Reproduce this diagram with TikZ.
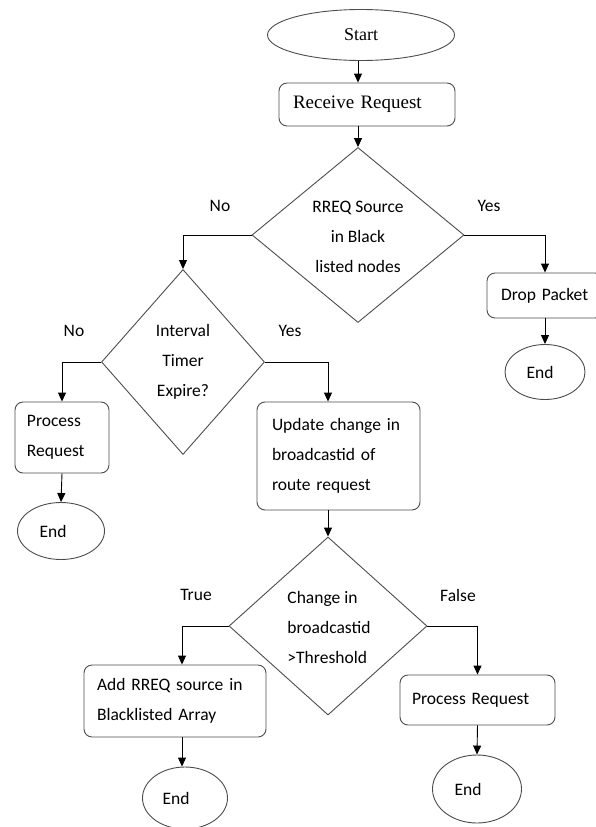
\documentclass[tikz,border=0pt]{standalone}
\usepackage{fontspec}
\setmainfont{Carlito}
\newfontfamily\serifx{Liberation Serif}
\usetikzlibrary{shapes.geometric,arrows.meta}
\begin{document}
\begin{tikzpicture}[x=1pt,y=-1pt,
  every node/.style={font=\fontsize{17.5}{30}\selectfont},
  line/.style={draw=black!70, line width=0.9pt},
  arr/.style={draw=black, line width=0.9pt, -{Triangle[length=9pt,width=8pt]}},
  term/.style={ellipse, line, inner sep=0pt},
  box/.style={rectangle, rounded corners=8pt, line, align=left, inner ysep=0pt},
  dia/.style={diamond, line, inner sep=0pt},
  lbl/.style={inner sep=0pt}
]
\useasboundingbox (0,0) rectangle (595,827);

\coordinate (cx1) at (358,0);
\coordinate (cx3) at (328,0);
\coordinate (cx4) at (182,0);

% top
\node[term, minimum width=187pt, minimum height=51pt, font=\serifx\fontsize{18}{22}\selectfont] (start) at (361,35) {Start};
\node[box, minimum width=176pt, minimum height=43pt, text width=148pt, inner xsep=14pt, font=\serifx\fontsize{19}{22}\selectfont] (recv) at (367,104.5) {Receive Request};
\draw[arr] (cx1 |- start.south) -- (cx1 |- recv.north);

% decision 1
\node[dia, minimum width=212pt, minimum height=175pt] (d1) at (358,235) {};
\node[lbl, align=center] (t1) at (358,237) {RREQ Source\\in Black\\listed nodes};
\draw[arr] (cx1 |- recv.south) -- (d1.north);

% yes branch
\node[box, minimum width=116pt, minimum height=45pt, text width=96pt, inner xsep=10pt] (drop) at (545,295.5) {\hspace*{4pt}Drop Packet};
\draw[arr] (d1.east) -| (drop.north);
\node[term, minimum width=80pt, minimum height=55pt] (e1) at (545,372) {End\hspace*{10pt}};
\draw[arr] (drop.south) -- (e1.north);

% decision 2
\node[dia, minimum width=163pt, minimum height=185pt] (d2) at (183,362) {};
\node[lbl, align=center] (t2) at (183,362) {Interval\\Timer\\Expire?};
\draw[arr] (d1.west) -| (d2.north);

% no branch of d2
\node[box, minimum width=94pt, minimum height=71pt, text width=70pt, inner xsep=12pt] (pr1) at (62,437.5) {Process\\Request};
\draw[arr] (d2.west) -| (pr1.north);
\node[term, minimum width=87pt, minimum height=57pt] (e2) at (61,531) {End\hspace*{16pt}};
\draw[arr] (pr1.south) -- (e2.north);

% yes branch of d2
\node[box, minimum width=163pt, minimum height=108pt, text width=133pt, inner xsep=15pt] (upd) at (338.5,456) {Update change in\\broadcastid of\\route request};
\draw[arr] (d2.east) -| (cx3 |- upd.north);

% decision 3
\node[dia, minimum width=198pt, minimum height=178pt] (d3) at (328,626) {};
\node[lbl, align=left] (t3) at (329,627) {Change in\\broadcastid\\>Threshold};
\draw[arr] (cx3 |- upd.south) -- (d3.north);

% true branch
\node[box, minimum width=182pt, minimum height=72pt, text width=156pt, inner xsep=13pt] (add) at (175,701) {Add RREQ source in\\Blacklisted Array};
\draw[arr] (d3.west) -| (cx4 |- add.north);
\node[term, minimum width=85pt, minimum height=62pt] (e3) at (185,798) {End\hspace*{18pt}};
\draw[arr] (cx4 |- add.south) -- (cx4 |- e3.north);

% false branch
\node[box, minimum width=155pt, minimum height=50pt, text width=131pt, inner xsep=12pt] (pr2) at (477.5,700) {Process Request};
\draw[arr] (d3.east) -| (pr2.north);
\node[term, minimum width=89pt, minimum height=68pt] (e4) at (477,789) {End\hspace*{18pt}};
\draw[arr] (pr2.south) -- (e4.north);

% branch labels
\node[lbl] (l1) at (220,206) {No};
\node[lbl] (l2) at (489,206) {Yes};
\node[lbl] (l3) at (74,331) {No};
\node[lbl] (l4) at (290,331) {Yes};
\node[lbl] (l5) at (196,595) {True};
\node[lbl] (l6) at (458,595) {False};
\end{tikzpicture}
\end{document}
